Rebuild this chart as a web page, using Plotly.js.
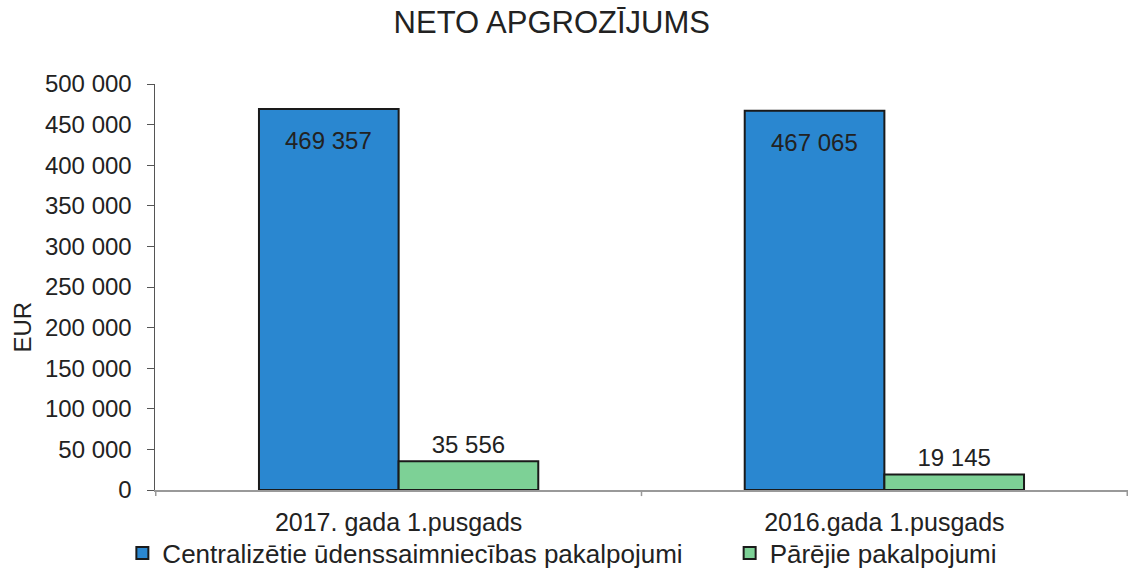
<!DOCTYPE html>
<html>
<head>
<meta charset="utf-8">
<script src="https://cdn.plot.ly/plotly-3.0.1.min.js"></script>
<style>html,body{margin:0;padding:0;background:#fff;}#chart{width:1133px;height:575px;}</style>
</head>
<body>
<div id="chart"></div>
<script>
const categories = ["2017. gada 1.pusgads", "2016.gada 1.pusgads"];
const seriesNames = ["Centralizētie ūdenssaimniecības pakalpojumi", "Pārējie pakalpojumi"];
const centralValues = [469357, 467065];
const otherValues = [35556, 19145];
const tickValues = [0, 50000, 100000, 150000, 200000, 250000, 300000, 350000, 400000, 450000, 500000];
const tickLabels = ["0", "50 000", "100 000", "150 000", "200 000", "250 000", "300 000", "350 000", "400 000", "450 000", "500 000"];
const yTitle = "EUR";

function fmt(v){ return String(v).replace(/\B(?=(\d{3})+(?!\d))/g, " "); }

const FAM = "Liberation Sans, Arial, sans-serif";
const TXT = "#222";
const FS = 24;

const traces = [
  {
    type: "bar", name: seriesNames[0], x: categories, y: centralValues, legend: "legend",
    marker: {color: "#2A87D0", line: {color: "#1a1a1a", width: 2}}
  },
  {
    type: "bar", name: seriesNames[1], x: categories, y: otherValues, legend: "legend2",
    text: otherValues.map(fmt), textposition: "outside",
    textfont: {family: FAM, size: FS, color: TXT},
    cliponaxis: false,
    marker: {color: "#7DD196", line: {color: "#1a1a1a", width: 2}}
  }
];

const annotations = categories.map((c, i) => ({
  x: c, y: centralValues[i], xref: "x", yref: "y",
  text: fmt(centralValues[i]), showarrow: false,
  xanchor: "center", yanchor: "top", xshift: -70, yshift: -16,
  font: {family: FAM, size: FS, color: TXT}
}));
annotations.push({
  x: 0, xref: "paper", xanchor: "center", xshift: -132,
  y: 0.4, yref: "paper", yanchor: "middle",
  text: yTitle, textangle: -90, showarrow: false,
  font: {family: FAM, size: FS, color: TXT}
});

const legendBase = {orientation: "h", xanchor: "left", xref: "container", yref: "container", y: 0.038, yanchor: "middle",
  font: {family: FAM, size: 26, color: TXT}, itemwidth: 30, bgcolor: "rgba(0,0,0,0)"};

const layout = {
  width: 1133, height: 575,
  margin: {l: 155, r: 5, t: 84, b: 85},
  paper_bgcolor: "#fff", plot_bgcolor: "#fff",
  font: {family: FAM, size: FS, color: TXT},
  title: {text: "NETO APGROZĪJUMS", x: 0.487, xanchor: "center", y: 0.962, yanchor: "middle", font: {family: FAM, size: 31, color: TXT}},
  barmode: "group", bargap: 0.425, bargroupgap: 0,
  showlegend: true,
  legend: Object.assign({}, legendBase, {x: 0.108}),
  legend2: Object.assign({}, legendBase, {x: 0.644}),
  annotations: annotations,
  xaxis: {
    showline: true, linecolor: "#999", linewidth: 1.5,
    ticks: "", showgrid: false, tickfont: {family: FAM, size: 25, color: TXT},
    ticklabelstandoff: 9
  },
  yaxis: {
    range: [0, 500000], tickvals: tickValues, ticktext: tickLabels,
    showline: true, linecolor: "#555", linewidth: 1.5,
    ticks: "outside", ticklen: 7, tickcolor: "#555",
    showgrid: false, zeroline: false,
    ticklabelstandoff: 10,
    tickfont: {family: FAM, size: FS, color: TXT}
  },
  shapes: [0, 1, 2].map(i => ({type: "line", xref: "x", yref: "paper", x0: i - 0.5, x1: i - 0.5, y0: 0, y1: -0.015, line: {color: "#999", width: 1.5}}))
};

Plotly.newPlot("chart", traces, layout, {displayModeBar: false, staticPlot: true});
</script>
</body>
</html>
